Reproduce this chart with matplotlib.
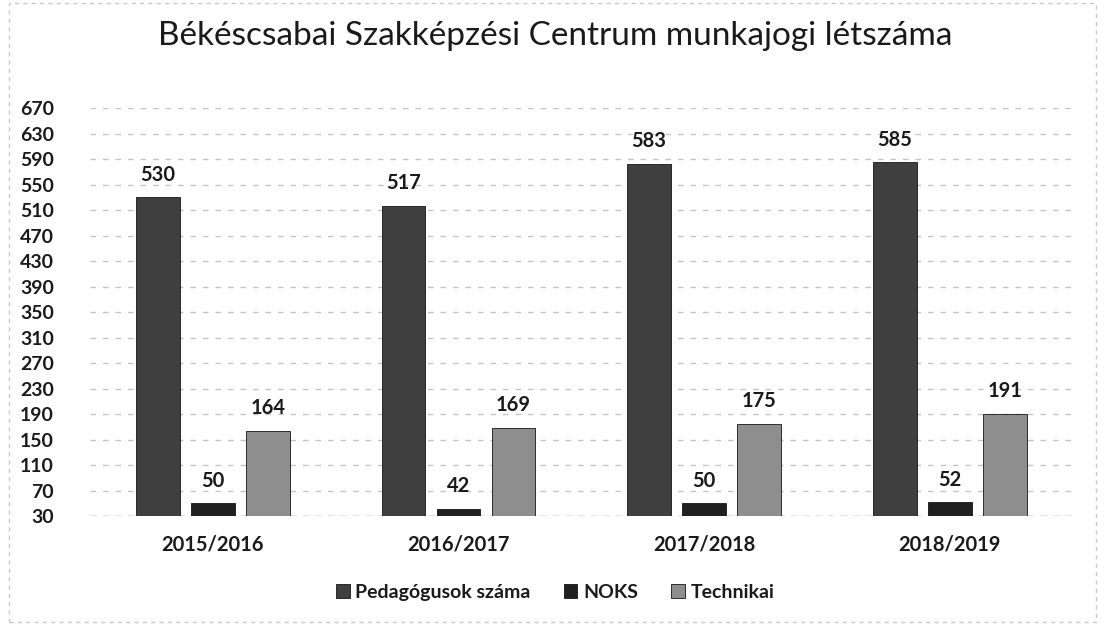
import matplotlib
matplotlib.use("Agg")
import matplotlib.pyplot as plt
import numpy as np
from matplotlib.patches import Rectangle

categories = ["2015/2016", "2016/2017", "2017/2018", "2018/2019"]
series_names = ["Pedagógusok száma", "NOKS", "Technikai"]
pedagogusok = [530, 517, 583, 585]
noks = [50, 42, 50, 52]
technikai = [164, 169, 175, 191]
yticks = list(range(30, 671, 40))

colors = ["#3f3f3f", "#202020", "#8e8e8e"]
plt.rcParams['font.family'] = ['Lato', 'DejaVu Sans']

fig = plt.figure(figsize=(11.04, 6.28), dpi=100)
ax = fig.add_axes([0.0815, 0.178, 0.890, 0.650])

x = np.arange(len(categories))
width = 0.178
offsets = [-0.224, 0, 0.224]
for vals, off, c, name in zip([pedagogusok, noks, technikai], offsets, colors, series_names):
    ax.bar(x + off, vals, width, color=c, label=name, zorder=3,
           edgecolor="#151515", linewidth=0.6)
    for xi, v in zip(x + off, vals):
        ax.annotate(str(v), (xi, v), xytext=(0, 9), textcoords="offset points",
                    ha="center", va="bottom", fontsize=14.5, fontweight="bold",
                    color="#1a1a1a")

ax.set_xlim(-0.5, len(categories) - 0.5)
ax.set_ylim(30, 670)
ax.set_yticks(yticks)
ax.set_yticklabels([str(t) for t in yticks], fontsize=14, fontweight="bold", color="#1a1a1a")
ax.set_xticks(x)
ax.set_xticklabels(categories, fontsize=14.5, fontweight="bold", color="#1a1a1a")
ax.tick_params(axis="both", length=0)
ax.tick_params(axis="x", pad=13)
ax.tick_params(axis="y", pad=26)
ax.yaxis.grid(True, color="#c4c4c4", linestyle=(0, (4, 5)), linewidth=1.0, zorder=0)
for s in ax.spines.values():
    s.set_visible(False)
ax.axhline(30, color="#9a9a9a", linewidth=1.0, linestyle=(0, (5, 4)), zorder=2)

fig.suptitle("Békéscsabai Szakképzési Centrum munkajogi létszáma", x=0.503, y=0.967,
             fontsize=24, color="#1a1a1a")

leg = fig.legend(loc="center", bbox_to_anchor=(0.503, 0.057), ncol=3, frameon=False,
                 fontsize=14, handlelength=0.7, handleheight=0.7, handletextpad=0.3,
                 columnspacing=1.7)
for t in leg.get_texts():
    t.set_fontweight("bold")
    t.set_color("#1a1a1a")

fig.patches.append(Rectangle((0.008, 0.01), 0.985, 0.985, transform=fig.transFigure,
                             fill=False, edgecolor="#c8c8c8", linewidth=1.0,
                             linestyle=(0, (3, 3))))

fig.savefig("out.png", dpi=100)
